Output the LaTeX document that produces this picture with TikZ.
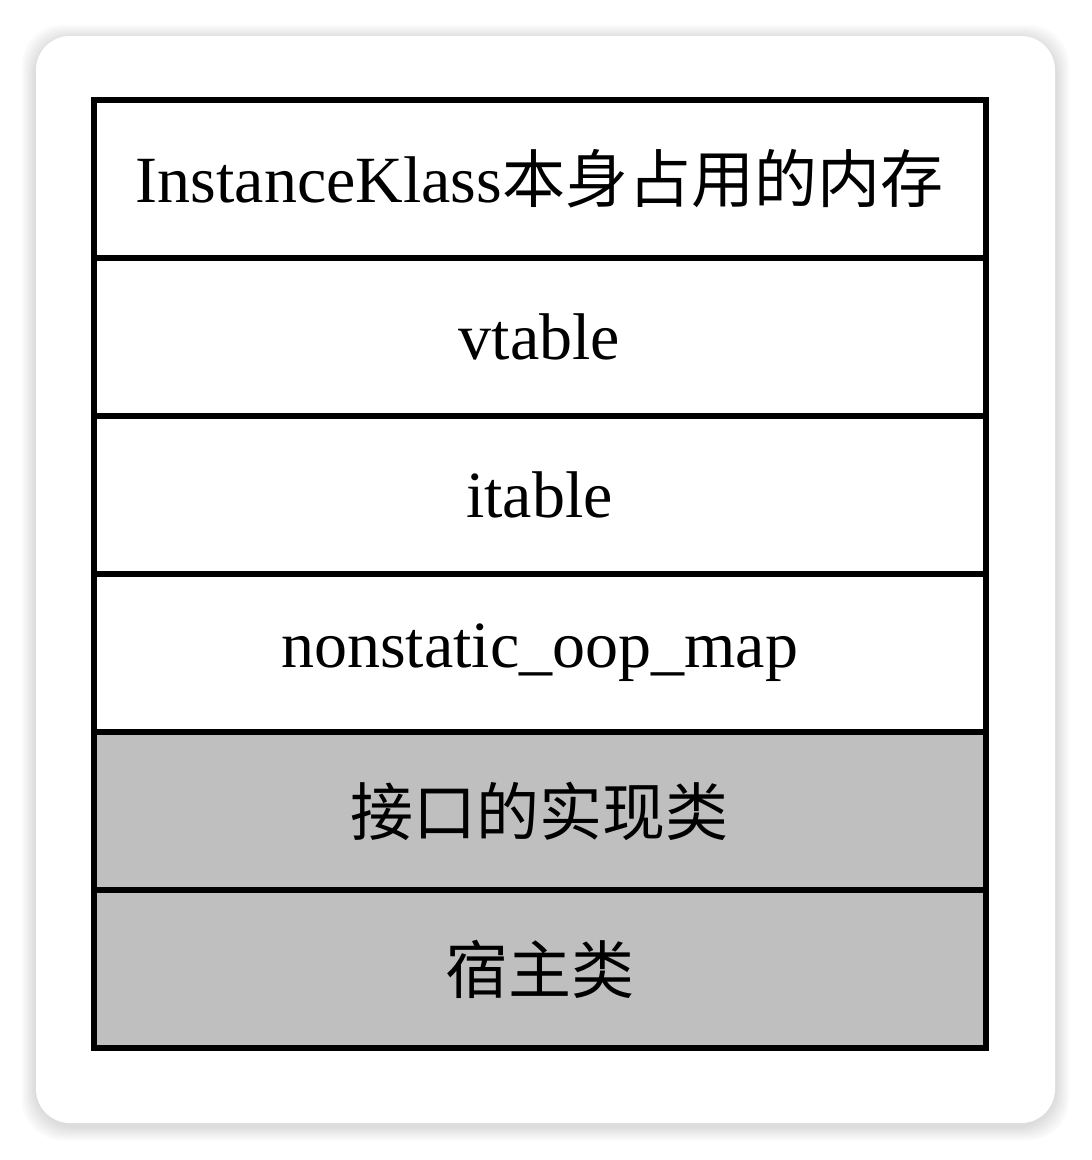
\documentclass[tikz,border=0pt]{standalone}
\usepackage{fontspec}
\setmainfont{Liberation Serif}
\newfontfamily\cjk{Noto Sans CJK SC}
\usepackage{tikz}
\usetikzlibrary{positioning}

\begin{document}
\begin{tikzpicture}[x=1pt,y=-1pt,
	row/.style={rectangle,draw=black,line width=6pt,fill=white,
		minimum width=892pt,minimum height=158pt,inner sep=0pt,
		font=\fontsize{66}{70}\selectfont},
	grayrow/.style={row,fill=black!25},
	zh/.style={font=\fontsize{63}{70}\selectfont\cjk}]
	\useasboundingbox (0,0) rectangle (1092,1160);
	% card with soft shadow
	\foreach \s in {14,12,...,2}
		\fill[black,opacity=0.018,rounded corners=40pt] (36-\s,36-\s+3) rectangle (1055+\s,1123+\s+3);
	\fill[white,rounded corners=34pt] (36,36) rectangle (1055,1123);

	\node[row] (self) at (539.5,179) {InstanceKlass{\cjk\fontsize{63}{70}\selectfont 本身占用的内存}};
	\node[row] (vtab) at (539.5,337) {vtable};
	\node[row] (itab) at (539.5,495) {itable};
	\node[row] (oopmap) at (539.5,653) {nonstatic\_oop\_map};
	\node[grayrow,zh] (impl) at (539.5,811) {接口的实现类};
	\node[grayrow,zh] (host) at (539.5,969) {宿主类};

\end{tikzpicture}
\end{document}
